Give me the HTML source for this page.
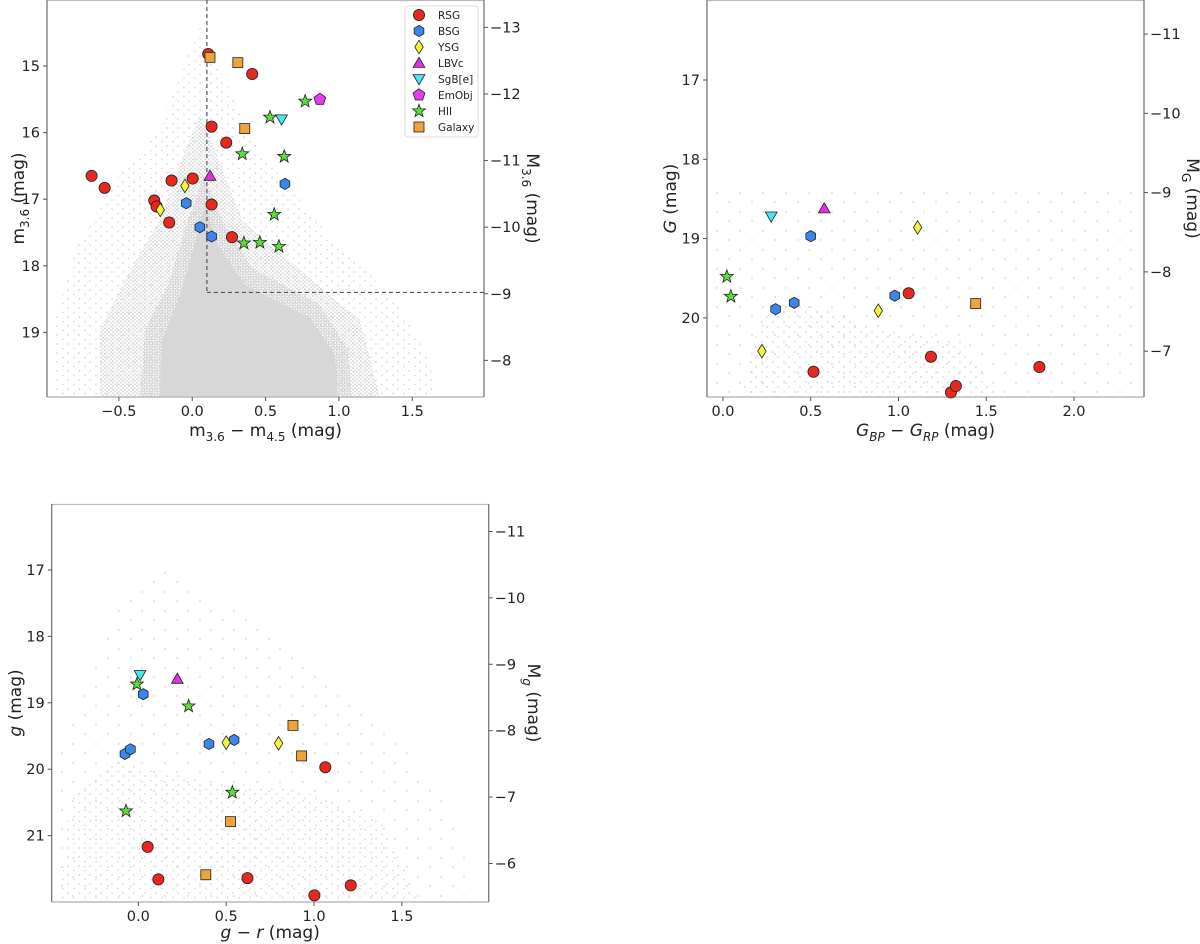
<!DOCTYPE html>
<html><head><meta charset="utf-8"><style>
html,body{margin:0;padding:0;background:#fff;}
svg{display:block;font-family:"DejaVu Sans","Liberation Sans",sans-serif;}
.tk{font-size:14.5px;fill:#222;}
.al{font-size:17px;fill:#222;}
</style></head><body>
<svg id="fig" width="1200" height="944" viewBox="0 0 1200 944" xmlns="http://www.w3.org/2000/svg">
<defs>
<pattern id="pCore" width="2.6" height="2.6" patternUnits="userSpaceOnUse"><circle cx="1.3" cy="1.3" r="1.05" fill="#d4d4d4"/></pattern>
<pattern id="pMid" width="4" height="3.6" patternUnits="userSpaceOnUse"><circle cx="1" cy="1" r="0.95" fill="#d6d6d6"/><circle cx="3" cy="2.8" r="0.9" fill="#d9d9d9"/></pattern>
<pattern id="pHalo" width="11" height="9" patternUnits="userSpaceOnUse"><circle cx="2" cy="2" r="0.9" fill="#d8d8d8"/><circle cx="8" cy="6.5" r="0.9" fill="#dadada"/></pattern>
<pattern id="pSparse" width="23" height="19" patternUnits="userSpaceOnUse"><circle cx="4" cy="3" r="0.9" fill="#d6d6d6"/><circle cx="16" cy="12" r="0.9" fill="#d6d6d6"/></pattern>
<pattern id="pSparse2" width="11" height="10" patternUnits="userSpaceOnUse"><circle cx="3" cy="2" r="0.9" fill="#d4d4d4"/><circle cx="8" cy="7" r="0.9" fill="#d6d6d6"/></pattern>
</defs>
<g>
<polygon points="55,397 55,320 75,250 115,180 160,130 182,70 200,25 220,70 258,150 325,230 395,300 430,360 435,397" fill="url(#pHalo)"/>
<polygon points="100,397 100,330 130,270 160,220 185,150 200,115 215,150 242,220 300,270 360,320 380,397" fill="url(#pMid)"/>
<polygon points="140,397 145,330 168,285 188,220 204,175 222,220 252,268 320,305 348,350 352,397" fill="url(#pCore)"/>
<polygon points="160,397 162,340 180,295 196,240 205,205 218,245 245,285 310,318 335,355 338,397" fill="#d7d7d7"/>
</g>
<g>
<rect x="712" y="190" width="420" height="205" fill="url(#pSparse)"/>
<polygon points="740,397 760,320 800,300 880,330 960,340 1000,397" fill="url(#pSparse2)"/>
</g>
<g>
<polygon points="56,900 56,760 80,700 120,600 170,560 220,600 300,650 380,720 440,790 470,860 470,900" fill="url(#pSparse)"/>
<polygon points="60,900 70,800 110,760 200,780 300,790 380,820 420,900" fill="url(#pHalo)"/>
</g>
<g id="plots"></g>
</svg>
<script>
// ---------- Panel 1 data (m3.6-m4.5 vs m3.6) ----------
const p1_rsg_x=[0.109,0.409,0.132,0.232,-0.686,-0.597,-0.141,0.003,-0.259,-0.243,-0.157,0.132,0.271];
const p1_rsg_y=[14.82,15.12,15.91,16.15,16.65,16.83,16.72,16.69,17.02,17.11,17.35,17.08,17.57];
const p1_bsg_x=[-0.041,0.632,0.052,0.132];
const p1_bsg_y=[17.06,16.77,17.42,17.56];
const p1_ysg_x=[-0.050,-0.218];
const p1_ysg_y=[16.80,17.16];
const p1_lbv_x=[0.121];
const p1_lbv_y=[16.65];
const p1_sgb_x=[0.609];
const p1_sgb_y=[15.80];
const p1_emo_x=[0.870];
const p1_emo_y=[15.50];
const p1_hii_x=[0.770,0.530,0.341,0.627,0.559,0.352,0.461,0.591];
const p1_hii_y=[15.53,15.77,16.32,16.36,17.23,17.66,17.65,17.71];
const p1_gal_x=[0.121,0.311,0.358];
const p1_gal_y=[14.87,14.95,15.94];
const p1_xticks=[-0.5,0.0,0.5,1.0,1.5];
const p1_xtickLabels=["−0.5","0.0","0.5","1.0","1.5"];
const p1_yticks=[15,16,17,18,19];
const p1_rticks=[-13,-12,-11,-10,-9,-8];
const p1_cut_color=0.1;
const p1_cut_mag=18.4;
// ---------- Panel 2 data (GBP-GRP vs G) ----------
const p2_rsg_x=[1.058,1.185,0.516,1.803,1.299,1.327];
const p2_rsg_y=[19.69,20.49,20.68,20.62,20.94,20.86];
const p2_bsg_x=[0.500,0.979,0.406,0.300];
const p2_bsg_y=[18.97,19.72,19.81,19.89];
const p2_ysg_x=[1.109,0.885,0.222];
const p2_ysg_y=[18.86,19.91,20.42];
const p2_lbv_x=[0.577];
const p2_lbv_y=[18.62];
const p2_sgb_x=[0.275];
const p2_sgb_y=[18.72];
const p2_hii_x=[0.022,0.045];
const p2_hii_y=[19.48,19.73];
const p2_gal_x=[1.440];
const p2_gal_y=[19.82];
const p2_xticks=[0.0,0.5,1.0,1.5,2.0];
const p2_xtickLabels=["0.0","0.5","1.0","1.5","2.0"];
const p2_yticks=[17,18,19,20];
const p2_rticks=[-11,-10,-9,-8,-7];
// ---------- Panel 3 data (g-r vs g) ----------
const p3_rsg_x=[1.064,0.053,0.114,0.621,1.002,1.209];
const p3_rsg_y=[19.97,21.17,21.66,21.64,21.90,21.75];
const p3_bsg_x=[0.028,0.402,0.545,-0.076,-0.045];
const p3_bsg_y=[18.87,19.62,19.56,19.77,19.70];
const p3_ysg_x=[0.500,0.798];
const p3_ysg_y=[19.60,19.61];
const p3_lbv_x=[0.222];
const p3_lbv_y=[18.64];
const p3_sgb_x=[0.010];
const p3_sgb_y=[18.58];
const p3_hii_x=[-0.008,0.286,0.535,-0.070];
const p3_hii_y=[18.72,19.05,20.35,20.63];
const p3_gal_x=[0.880,0.929,0.525,0.384];
const p3_gal_y=[19.34,19.80,20.79,21.59];
const p3_xticks=[0.0,0.5,1.0,1.5];
const p3_xtickLabels=["0.0","0.5","1.0","1.5"];
const p3_yticks=[17,18,19,20,21];
const p3_rticks=[-11,-10,-9,-8,-7,-6];
const distMod=27.42;
const legendLabels=["RSG","BSG","YSG","LBVc","SgB[e]","EmObj","HII","Galaxy"];
const legendKinds=["rsg","bsg","ysg","lbv","sgb","emo","hii","gal"];

const NS="http://www.w3.org/2000/svg";
const root=document.getElementById('plots');
function mk(tag,attrs,parent){const e=document.createElementNS(NS,tag);for(const k in attrs)e.setAttribute(k,attrs[k]);(parent||root).appendChild(e);return e;}
const STY={
 rsg:{fill:"#e8281e"},bsg:{fill:"#3b86ea"},ysg:{fill:"#f7f23a"},lbv:{fill:"#e12fe0"},
 sgb:{fill:"#45e9ea"},emo:{fill:"#e53ef0"},hii:{fill:"#5cdd3a"},gal:{fill:"#f2a23a"}
};
function poly(cx,cy,n,r,rot){const p=[];for(let i=0;i<n;i++){const a=rot+i*2*Math.PI/n;p.push((cx+r*Math.cos(a)).toFixed(2)+","+(cy+r*Math.sin(a)).toFixed(2));}return p.join(" ");}
function marker(kind,cx,cy,g){
 const f=STY[kind].fill;const base={fill:f,stroke:"#222","stroke-width":0.8};let e;
 if(kind==="rsg"){e=mk('circle',Object.assign({cx:cx,cy:cy,r:5.6},base),g);}
 else if(kind==="bsg"){e=mk('polygon',Object.assign({points:poly(cx,cy,6,5.6,-Math.PI/2)},base),g);}
 else if(kind==="ysg"){e=mk('polygon',Object.assign({points:`${cx},${cy-6.8} ${cx+4.2},${cy} ${cx},${cy+6.8} ${cx-4.2},${cy}`},base),g);}
 else if(kind==="lbv"){e=mk('polygon',Object.assign({points:poly(cx,cy+1,3,6.8,-Math.PI/2)},base),g);}
 else if(kind==="sgb"){e=mk('polygon',Object.assign({points:poly(cx,cy-1,3,6.8,Math.PI/2)},base),g);}
 else if(kind==="emo"){e=mk('polygon',Object.assign({points:poly(cx,cy,5,6.2,-Math.PI/2)},base),g);}
 else if(kind==="hii"){const p=[];for(let i=0;i<10;i++){const a=-Math.PI/2+i*Math.PI/5;const r=i%2?2.8:6.8;p.push((cx+r*Math.cos(a)).toFixed(2)+","+(cy+r*Math.sin(a)).toFixed(2));}e=mk('polygon',Object.assign({points:p.join(" ")},base),g);}
 else {e=mk('rect',Object.assign({x:cx-5,y:cy-5,width:10,height:10},base),g);}
 return e;
}
function makeAxes(P){
 P.sx=v=>P.L+(v-P.xmin)/(P.xmax-P.xmin)*(P.R-P.L);
 P.sy=v=>P.T+(v-P.ymin)/(P.ymax-P.ymin)*(P.B-P.T);
 const g=mk('g',{});
 
 
 mk('line',{x1:P.L,y1:P.T+0.5,x2:P.R,y2:P.T+0.5,stroke:"#bbb","stroke-width":1.2},g);
 mk('line',{x1:P.L,y1:P.B,x2:P.R,y2:P.B,stroke:"#bbb","stroke-width":1.4},g);
 mk('line',{x1:P.L,y1:P.T,x2:P.L,y2:P.B,stroke:"#777","stroke-width":1.3},g);
 mk('line',{x1:P.R,y1:P.T,x2:P.R,y2:P.B,stroke:"#777","stroke-width":1.3},g);
 P.xticks.forEach((v,i)=>{const x=P.sx(v);mk('line',{x1:x,y1:P.B,x2:x,y2:P.B+4,stroke:"#555"},g);
  const t=mk('text',{x:x,y:P.B+19,"text-anchor":"middle",class:"tk"},g);t.textContent=P.xlabels[i];
  
  });
 P.yticks.forEach(v=>{const y=P.sy(v);mk('line',{x1:P.L-4,y1:y,x2:P.L,y2:y,stroke:"#555"},g);
  const t=mk('text',{x:P.L-7,y:y+5,"text-anchor":"end",class:"tk"},g);t.textContent=String(v);
  
  });
 P.rticks.forEach(v=>{const y=P.sy(v+distMod);mk('line',{x1:P.R,y1:y,x2:P.R+4,y2:y,stroke:"#555"},g);
  const t=mk('text',{x:P.R+6,y:y+5,"text-anchor":"start",class:"tk"},g);t.textContent="−"+Math.abs(v);
  
  });
 const xl=mk('text',{x:(P.L+P.R)/2,y:P.B+P.xly,"text-anchor":"middle",class:"al"},g);xl.innerHTML=P.xtitle;
 
 
 const cy=(P.T+P.B)/2;
 const yl=mk('text',{x:0,y:0,"text-anchor":"middle",class:"al",transform:`translate(${P.ylx},${cy}) rotate(-90)`},g);yl.innerHTML=P.ytitle;
 
 
 const rl=mk('text',{x:0,y:0,"text-anchor":"middle",class:"al",transform:`translate(${P.rlx},${cy}) rotate(90)`},g);rl.innerHTML=P.rtitle;
 
 
 return g;
}
function series(P,kind,xs,ys){
 const g=mk('g',{});
 
 
 xs.forEach((v,i)=>{const m=marker(kind,P.sx(v),P.sy(ys[i]),g);
  
  });
}
const P1={name:"panel1",L:47,R:484,T:0,B:397,xmin:-0.990,xmax:1.989,ymin:14.009,ymax:19.97,
 xticks:p1_xticks,xlabels:p1_xtickLabels,yticks:p1_yticks,rticks:p1_rticks,ylx:24,rlx:527,xly:39,
 xtitle:'m<tspan dy="5" font-size="12">3.6</tspan><tspan dy="-5"> − m</tspan><tspan dy="5" font-size="12">4.5</tspan><tspan dy="-5"> (mag)</tspan>',
 ytitle:'m<tspan dy="5" font-size="12">3.6</tspan><tspan dy="-5"> (mag)</tspan>',
 rtitle:'M<tspan dy="5" font-size="12">3.6</tspan><tspan dy="-5"> (mag)</tspan>'};
const P2={name:"panel2",L:707,R:1144,T:0,B:397,xmin:-0.091,xmax:2.399,ymin:15.991,ymax:20.998,
 xticks:p2_xticks,xlabels:p2_xtickLabels,yticks:p2_yticks,rticks:p2_rticks,ylx:676,rlx:1187,xly:39,
 xtitle:'<tspan font-style="italic">G</tspan><tspan dy="5" font-size="12" font-style="italic">BP</tspan><tspan dy="-5"> − </tspan><tspan font-style="italic">G</tspan><tspan dy="5" font-size="12" font-style="italic">RP</tspan><tspan dy="-5"> (mag)</tspan>',
 ytitle:'<tspan font-style="italic">G</tspan> (mag)',
 rtitle:'M<tspan dy="5" font-size="12">G</tspan><tspan dy="-5"> (mag)</tspan>'};
const P3={name:"panel3",L:51.7,R:488.7,T:504,B:902,xmin:-0.493,xmax:1.994,ymin:16.006,ymax:22.0,
 xticks:p3_xticks,xlabels:p3_xtickLabels,yticks:p3_yticks,rticks:p3_rticks,ylx:21,rlx:528,xly:36,
 xtitle:'<tspan font-style="italic">g</tspan> − <tspan font-style="italic">r</tspan> (mag)',
 ytitle:'<tspan font-style="italic">g</tspan> (mag)',
 rtitle:'M<tspan dy="5" font-size="12" font-style="italic">g</tspan><tspan dy="-5"> (mag)</tspan>'};
[P1,P2,P3].forEach(makeAxes);
const cut=mk('g',{});


mk('line',{x1:P1.sx(p1_cut_color),y1:P1.T,x2:P1.sx(p1_cut_color),y2:P1.sy(p1_cut_mag),stroke:"#555","stroke-width":1.2,"stroke-dasharray":"4,3"},cut);
mk('line',{x1:P1.sx(p1_cut_color),y1:P1.sy(p1_cut_mag),x2:P1.R,y2:P1.sy(p1_cut_mag),stroke:"#555","stroke-width":1.2,"stroke-dasharray":"4,3"},cut);
[["rsg",p1_rsg_x,p1_rsg_y],["bsg",p1_bsg_x,p1_bsg_y],["ysg",p1_ysg_x,p1_ysg_y],["lbv",p1_lbv_x,p1_lbv_y],["sgb",p1_sgb_x,p1_sgb_y],["emo",p1_emo_x,p1_emo_y],["hii",p1_hii_x,p1_hii_y],["gal",p1_gal_x,p1_gal_y]].forEach(s=>series(P1,s[0],s[1],s[2]));
[["rsg",p2_rsg_x,p2_rsg_y],["bsg",p2_bsg_x,p2_bsg_y],["ysg",p2_ysg_x,p2_ysg_y],["lbv",p2_lbv_x,p2_lbv_y],["sgb",p2_sgb_x,p2_sgb_y],["hii",p2_hii_x,p2_hii_y],["gal",p2_gal_x,p2_gal_y]].forEach(s=>series(P2,s[0],s[1],s[2]));
[["rsg",p3_rsg_x,p3_rsg_y],["bsg",p3_bsg_x,p3_bsg_y],["ysg",p3_ysg_x,p3_ysg_y],["lbv",p3_lbv_x,p3_lbv_y],["sgb",p3_sgb_x,p3_sgb_y],["hii",p3_hii_x,p3_hii_y],["gal",p3_gal_x,p3_gal_y]].forEach(s=>series(P3,s[0],s[1],s[2]));
const lg=mk('g',{});


mk('rect',{x:405,y:6,width:73,height:131,rx:3,fill:"#fff","fill-opacity":0.85,stroke:"#ddd"},lg);
legendLabels.forEach((lab,i)=>{
 const y=15+i*16;
 const e=mk('g',{},lg);
 
 
 marker(legendKinds[i],419,y,e);
 const t=mk('text',{x:438,y:y+4,"font-size":"10.5px",fill:"#222"},e);t.textContent=lab;
});
</script>
</body></html>
